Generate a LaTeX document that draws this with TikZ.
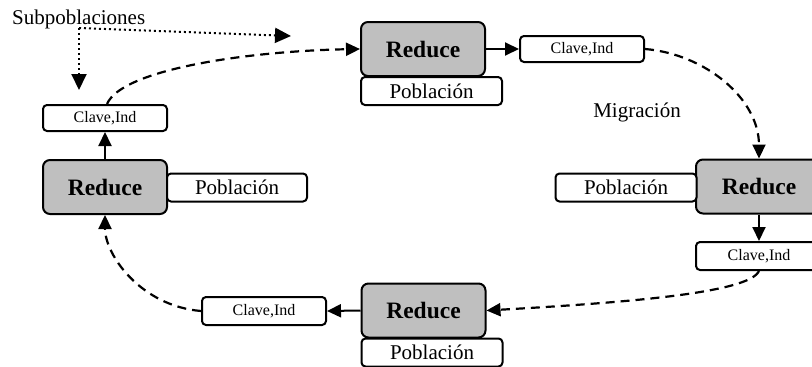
\documentclass[tikz,border=0pt]{standalone}
\usepackage{fontspec}
\setmainfont{Liberation Serif}
\usetikzlibrary{arrows.meta}
\begin{document}
\begin{tikzpicture}[x=1pt,y=-1pt,
  redbox/.style={draw,line width=2pt,rounded corners=7pt,fill=black!25,
    minimum width=124pt,minimum height=54pt,inner sep=0pt,
    font=\fontsize{23.5}{27}\selectfont\bfseries},
  popbox/.style={draw,line width=2pt,rounded corners=4pt,fill=white,
    minimum width=141pt,minimum height=28pt,inner sep=0pt,
    font=\fontsize{21}{24}\selectfont},
  keybox/.style={draw,line width=2pt,rounded corners=4pt,fill=white,
    minimum width=124pt,minimum height=26pt,inner sep=0pt,
    font=\fontsize{16}{19}\selectfont},
  plainlbl/.style={inner sep=0pt,font=\fontsize{21}{24}\selectfont},
  solidarr/.style={line width=2pt,-{Triangle[length=14pt,width=13pt]}},
  migarr/.style={line width=2.2pt,dash pattern=on 9pt off 6pt,
    -{Triangle[length=14pt,width=13pt]}},
  dotarr/.style={line width=2pt,dash pattern=on 2pt off 3pt,
    -{Triangle[length=16pt,width=15pt]}}
]
\clip (0,0) rectangle (812,367);
% nodes
\node[redbox] (topR) at (423,49) {Reduce};
\node[popbox] (topP) at (431.5,91) {Población};
\node[keybox] (topC) at (582,49) {Clave,Ind};

\node[redbox,minimum width=126pt] (rightR) at (759,186.5) {Reduce};
\node[popbox] (rightP) at (626,187.5) {Población};
\node[keybox,minimum width=126pt,minimum height=28pt] (rightC) at (759,256) {Clave,Ind};

\node[redbox] (botR) at (423.5,310.5) {Reduce};
\node[popbox] (botP) at (432,352.5) {Población};
\node[keybox,minimum height=28pt] (botC) at (264,311) {Clave,Ind};

\node[redbox] (leftR) at (105,187) {Reduce};
\node[popbox,minimum width=140pt] (leftP) at (237,187.5) {Población};
\node[keybox] (leftC) at (105,118) {Clave,Ind};

\node[plainlbl,anchor=base west] (sub) at (12,24) {Subpoblaciones};
\node[plainlbl] (mig) at (637,112) {Migración};

% solid arrows
\draw[solidarr] (topR.east) -- (topC.west);
\draw[solidarr] (rightR.south) -- (rightC.north);
\draw[solidarr] (botR.west) -- (botC.east);
\draw[solidarr] (leftR.north) -- (leftC.south);

% migration (dashed) arrows
\draw[migarr] ([xshift=2pt]leftC.north) .. controls +(15,-35) and +(-110,2) .. (topR.west);
\draw[migarr] (topC.east) .. controls +(60,5) and +(0,-60) .. (rightR.north);
\draw[migarr] (rightC.south) .. controls +(-10,22) and +(140,-8) .. (botR.east);
\draw[migarr] (botC.west) .. controls +(-60,-5) and +(0,40) .. (leftR.south);

% dotted arrows from Subpoblaciones
\coordinate (spc) at (79,28);
\coordinate (dtipA) at (79,90);
\coordinate (dtipB) at (291,36);
\draw[dotarr] (spc) -- (dtipA);
\draw[dotarr] (spc) -- (dtipB);
\end{tikzpicture}
\end{document}
